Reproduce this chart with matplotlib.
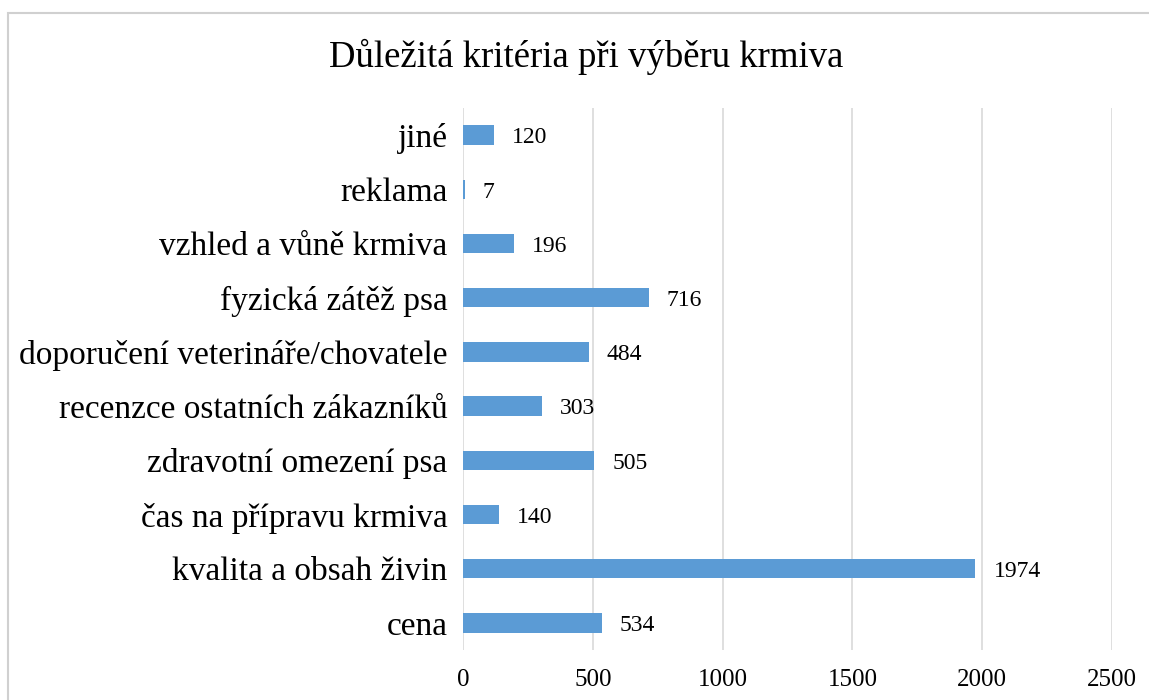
import matplotlib.pyplot as plt
from matplotlib.patches import Rectangle

categories = ['cena', 'kvalita a obsah živin', 'čas na přípravu krmiva',
              'zdravotní omezení psa', 'recenzce ostatních zákazníků',
              'doporučení veterináře/chovatele', 'fyzická zátěž psa',
              'vzhled a vůně krmiva', 'reklama', 'jiné']
values = [534, 1974, 140, 505, 303, 484, 716, 196, 7, 120]
xticks = [0, 500, 1000, 1500, 2000, 2500]

plt.rcParams['font.family'] = ['Liberation Serif', 'DejaVu Serif']

fig = plt.figure(figsize=(11.49, 7.0), dpi=100)
ax = fig.add_axes([463 / 1149, 50 / 700, (1112 - 463) / 1149, 542 / 700])

pos = range(len(categories))
ax.barh(pos, values, height=0.36, color='#5B9BD5', zorder=3)
for y, v in zip(pos, values):
    ax.annotate(str(v), (v, y), xytext=(13, -2), textcoords='offset points',
                va='center', ha='left', fontsize=17)

ax.set_xlim(0, 2500)
ax.set_ylim(-0.5, len(categories) - 0.5)
ax.set_xticks(xticks)
ax.set_yticks(list(pos))
ax.set_yticklabels(categories, fontsize=24)
ax.tick_params(axis='y', length=0, pad=11)
ax.tick_params(axis='x', length=0, pad=14, labelsize=18)
ax.grid(axis='x', color='#d9d9d9', linewidth=1.2, zorder=0)
for s in ax.spines.values():
    s.set_visible(False)

fig.text(586 / 1149, 1 - 57 / 700, 'Důležitá kritéria při výběru krmiva',
         ha='center', va='center', fontsize=26.5)

# chart frame (cut off by the page at right and bottom)
fig.patches.append(Rectangle((8 / 1149, -0.1), 1.2, 1.1 - 13 / 700,
                             transform=fig.transFigure, fill=False,
                             edgecolor='#d0d0d0', linewidth=1.5))

plt.savefig('out.png', dpi=100)
